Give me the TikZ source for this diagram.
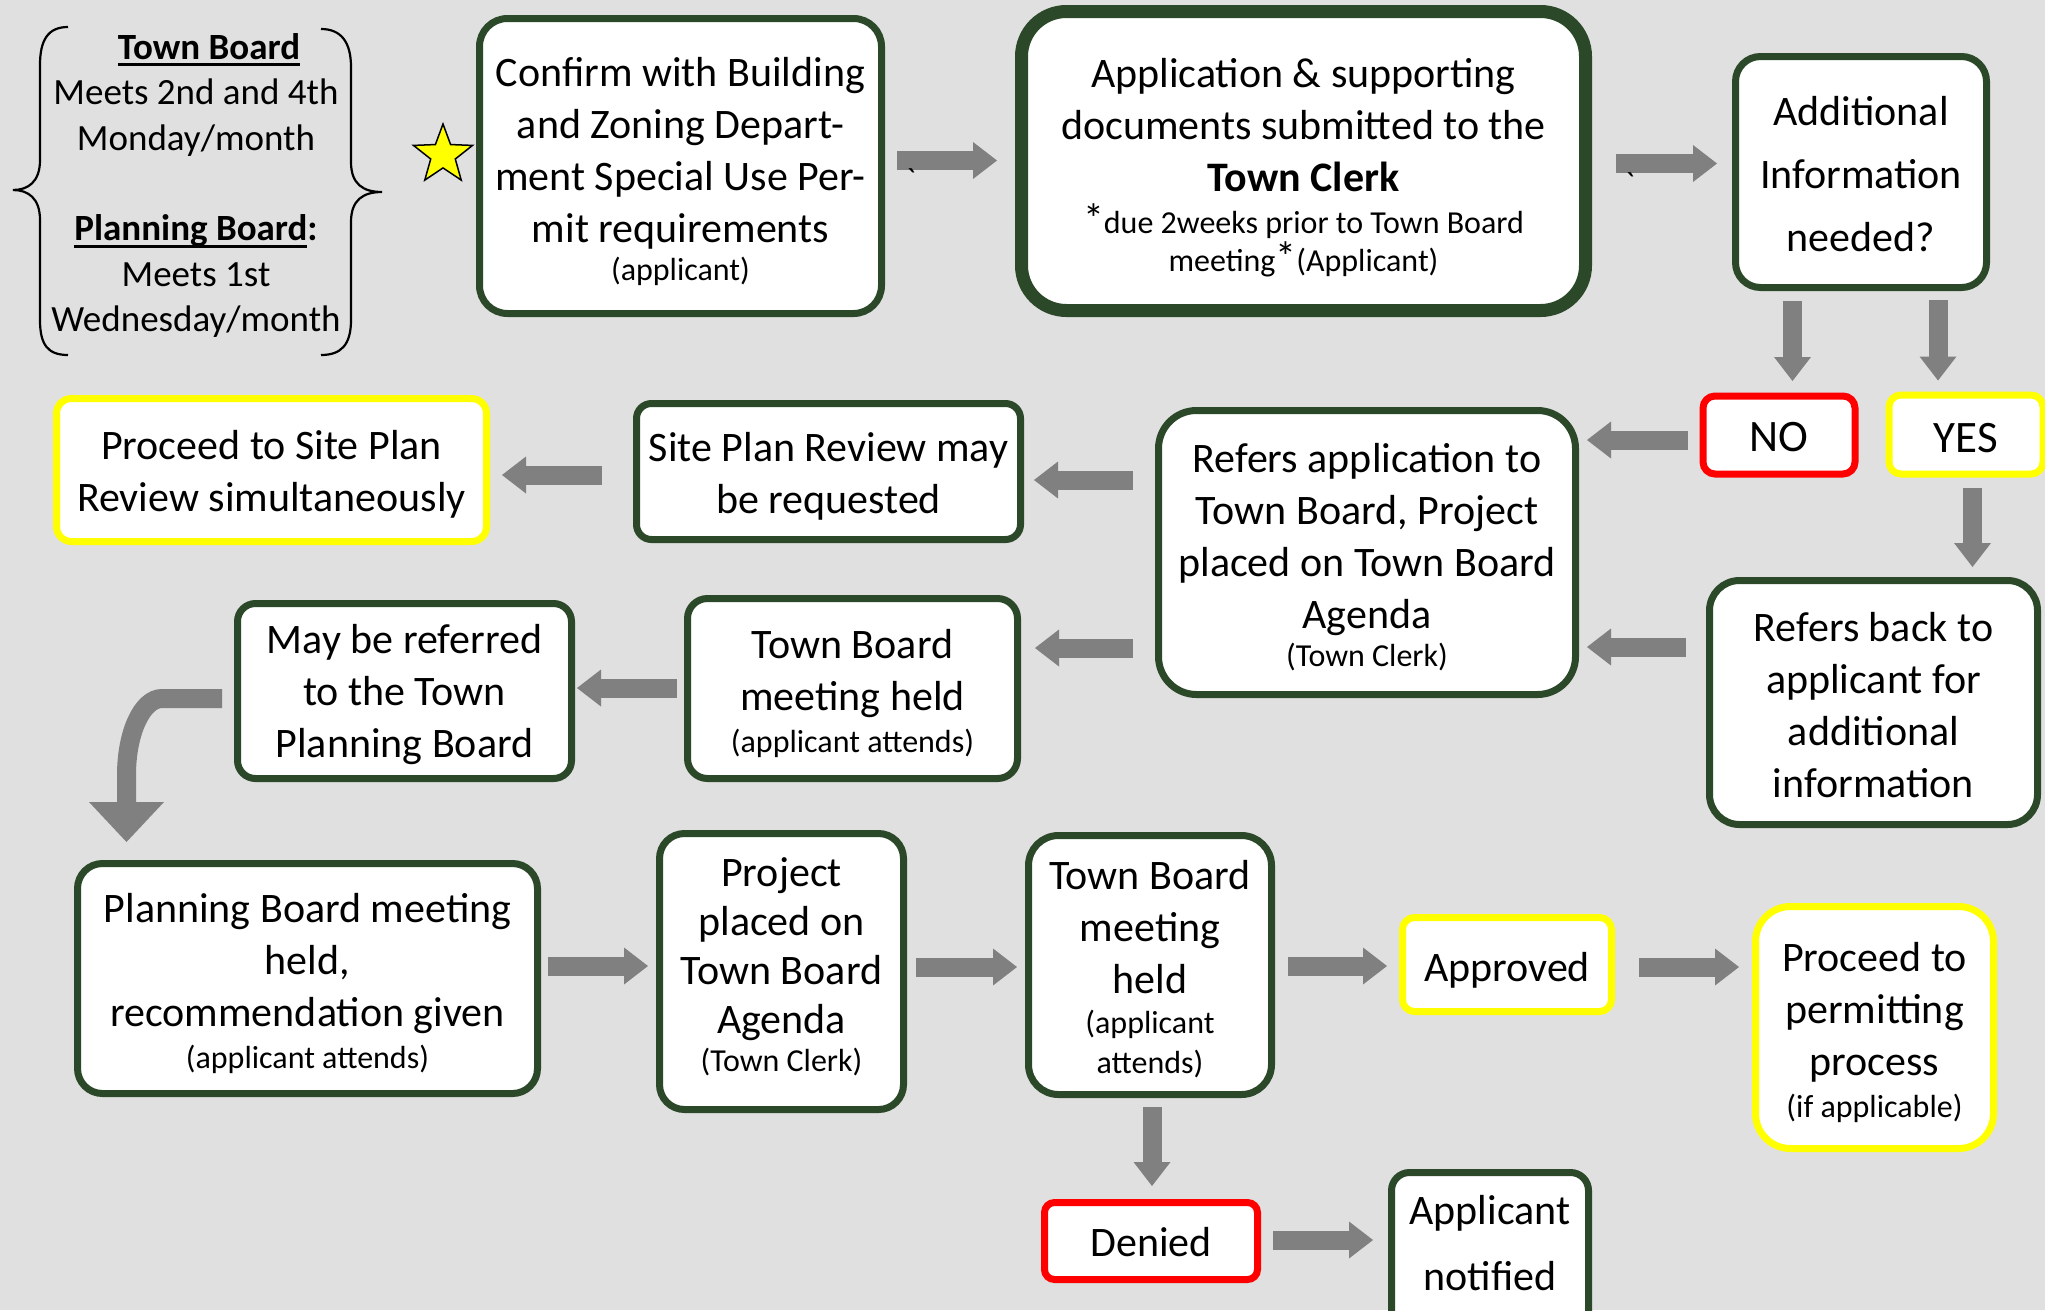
\documentclass[tikz,border=0pt]{standalone}
\usepackage{fontspec}
\setmainfont{Carlito}
\newfontfamily\tickfont{Carlito}
\usetikzlibrary{arrows.meta,calc,shapes.geometric}

\definecolor{bg}{RGB}{224,224,224}
\definecolor{dkgreen}{RGB}{43,72,41}
\definecolor{arrgray}{RGB}{128,128,128}
\definecolor{hiyellow}{RGB}{255,255,0}
\definecolor{hired}{RGB}{255,0,0}

\newcommand\bigf{\fontsize{42pt}{52pt}\selectfont}
\newcommand\smf{\fontsize{32pt}{40pt}\selectfont}
\newcommand\brf{\fontsize{37pt}{45.5pt}\selectfont}
\newcommand\ynf{\fontsize{45pt}{52pt}\selectfont}
\newsavebox\ulsave
\newcommand\ulbox[1]{\sbox\ulsave{#1}\rlap{\rule[-7pt]{\wd\ulsave}{3.2pt}}\usebox\ulsave}

\begin{document}
\begin{tikzpicture}[x=1pt,y=-1pt,
  box/.style={draw=dkgreen, line width=7pt, fill=white, inner sep=0pt, outer sep=0pt},
  hibox/.style={box, draw=hiyellow},
  nobox/.style={box, draw=hired},
  txt/.style={align=center, inner sep=0pt, font=\bigf},
  barr/.style={draw=arrgray, line width=19pt,
    -{Triangle[width=37pt,length=24pt,line width=0pt]}},
  brace/.style={draw=black, line width=2.2pt},
  tick/.style={font=\tickfont\fontsize{32pt}{32pt}\selectfont, inner sep=0pt, anchor=base}]

\useasboundingbox (0,0) rectangle (2045,1310);
\clip (0,0) rectangle (2045,1310);
\fill[bg] (0,0) rectangle (2045,1310);

% meeting schedule between braces
\draw[brace] (68,27) .. controls (48,27) and (40,40) .. (40,65) -- (40,160)
  .. controls (40,182) and (28,190) .. (13,190)
  .. controls (28,190) and (40,198) .. (40,220) -- (40,320)
  .. controls (40,345) and (48,355) .. (68,355);
\draw[brace] (321,29) .. controls (341,29) and (351,42) .. (351,67) -- (351,162)
  .. controls (351,184) and (363,192) .. (382,192)
  .. controls (363,192) and (351,200) .. (351,222) -- (351,320)
  .. controls (351,345) and (341,355) .. (321,355);
\node[font=\brf, align=center, inner sep=0pt] (meetings) at (196,185.6)
  {\hspace*{26pt}\ulbox{\textbf{Town Board}}\\Meets 2nd and 4th\\Monday/month\\[45pt]
   \ulbox{\textbf{Planning Board}}\textbf{:}\\Meets 1st\\Wednesday/month};

\node[star, star points=5, star point ratio=2.4, minimum size=62pt, inner sep=0pt,
  fill=hiyellow, draw=black, line width=1.5pt] (star) at (443,155) {};

% process boxes
\node[box, rounded corners=28pt, minimum width=402pt, minimum height=295pt] (confirm) at (680.5,166) {};
\node[box, line width=13pt, rounded corners=45pt, minimum width=564pt, minimum height=299pt] (app) at (1303.5,161) {};
\node[box, rounded corners=25pt, minimum width=251pt, minimum height=231pt] (addl) at (1861,172) {};
\node[nobox, rounded corners=12pt, minimum width=152pt, minimum height=78pt] (no) at (1779,435) {};
\node[hibox, rounded corners=12pt, minimum width=154pt, minimum height=79pt] (yes) at (1966,434.5) {};
\node[box, rounded corners=38pt, minimum width=417pt, minimum height=284pt] (refapp) at (1367,552.5) {};
\node[box, rounded corners=30pt, minimum width=328pt, minimum height=244pt] (refback) at (1873.5,702.5) {};
\node[box, rounded corners=15pt, minimum width=384pt, minimum height=136pt] (site) at (828.5,471.5) {};
\node[hibox, rounded corners=15pt, minimum width=430pt, minimum height=143pt] (prosite) at (271.5,470) {};
\node[box, rounded corners=18pt, minimum width=334pt, minimum height=175pt] (mayref) at (404.5,691) {};
\node[box, rounded corners=20pt, minimum width=330pt, minimum height=180pt] (tbfirst) at (852.5,688.5) {};
\node[box, rounded corners=25pt, minimum width=460pt, minimum height=230pt] (planmeet) at (307.5,978.5) {};
\node[box, rounded corners=25pt, minimum width=244pt, minimum height=276pt] (project) at (781.5,971.5) {};
\node[box, rounded corners=30pt, minimum width=243pt, minimum height=259pt] (tbsecond) at (1150,965) {};
\node[hibox, rounded corners=12pt, minimum width=209pt, minimum height=94pt] (approved) at (1507,964.5) {};
\node[hibox, rounded corners=35pt, minimum width=238pt, minimum height=242pt] (permit) at (1874.5,1027.5) {};
\node[nobox, rounded corners=10pt, minimum width=213pt, minimum height=77pt] (denied) at (1151,1241) {};
\node[box, rounded corners=18pt, minimum width=197pt, minimum height=164pt] (notified) at (1490,1254.5) {};

% box texts
\node[txt] (confirmtxt) at ($(confirm)+(0,5)$)
  {Confirm with Building\\and Zoning Depart-\\ment Special Use Per-\\mit requirements\\[-14pt]{\smf (applicant)}};
\node[txt] (apptxt) at ($(app)+(0,6.5)$)
  {Application \& supporting\\documents submitted to the\\\textbf{Town Clerk}\\[-10pt]{\smf{\bigf*}due 2weeks prior to Town Board}\\[-14pt]{\smf meeting{\bigf*}(Applicant)}};
\node[txt] (addltxt) at ($(addl)+(0,2)$) {Additional\\[11pt]Information\\[11pt]needed?};
\node[txt, font=\ynf] (notxt) at ($(no)+(0,2.5)$) {NO};
\node[txt, font=\ynf] (yestxt) at ($(yes)+(0,4)$) {YES};
\node[txt] (refapptxt) at ($(refapp)+(0,5)$)
  {Refers application to\\Town Board, Project\\placed on Town Board\\Agenda\\[-14pt]{\smf (Town Clerk)}};
\node[txt] (refbacktxt) at ($(refback)+(0,3)$) {Refers back to\\applicant for\\additional\\information};
\node[txt] (sitetxt) at ($(site)+(0,5)$) {Site Plan Review may\\be requested};
\node[txt] (prositetxt) at ($(prosite)+(0,4)$) {Proceed to Site Plan\\Review simultaneously};
\node[txt] (mayreftxt) at ($(mayref)+(0,4)$) {May be referred\\to the Town\\Planning Board};
\node[txt] (tbfirsttxt) at ($(tbfirst)+(0,5)$) {Town Board\\meeting held\\[-10pt]{\smf (applicant attends)}};
\node[txt] (planmeettxt) at ($(planmeet)+(0,5)$)
  {Planning Board meeting\\held,\\recommendation given\\[-10pt]{\smf (applicant attends)}};
\node[txt] (projecttxt) at ($(project)+(0,-5)$)
  {Project\\[-3pt]placed on\\[-3pt]Town Board\\[-3pt]Agenda\\[-14pt]{\smf (Town Clerk)}};
\node[txt] (tbsecondtxt) at ($(tbsecond)+(0,4.5)$)
  {Town Board\\meeting\\held\\[-12pt]{\smf (applicant}\\[-12pt]{\smf attends)}};
\node[txt] (approvedtxt) at ($(approved)+(0,6)$) {Approved};
\node[txt] (permittxt) at ($(permit)+(0,5)$) {Proceed to\\permitting\\process\\[-10pt]{\smf (if applicable)}};
\node[txt] (deniedtxt) at ($(denied)+(0,1)$) {Denied};
\node[txt] (notifiedtxt) at (1490,1243) {Applicant\\[14pt]notified};

% block arrows
\draw[barr] ($(confirm.east)+(15.5,-5.5)$) -- ($(app.west)+(-24.5,-0.5)$);
\draw[barr] ($(app.east)+(30.5,2.5)$) -- ($(addl.west)+(-18.5,-8.5)$);
\draw[barr] ($(addl.south)+(-68.5,13.5)$) -- ($(no.north)+(13.5,-15)$);
\draw[barr] ($(addl.south)+(77,12.5)$) -- ($(yes.north)+(-28,-14.5)$);
\draw[barr] ($(no.west)+(-15,5)$) -- ($(refapp.east)+(11.5,-112.5)$);
\draw[barr] ($(yes.south)+(6.5,13.5)$) -- ($(refback.north)+(99,-13.5)$);
\draw[barr] ($(refback.west)+(-23.5,-55.5)$) -- ($(refapp.east)+(11.5,94.5)$);
\draw[barr] ($(refapp.west)+(-25.5,-72.5)$) -- ($(site.east)+(13.5,8.5)$);
\draw[barr] ($(site.west)+(-34.5,3.5)$) -- ($(prosite.east)+(15.5,5)$);
\draw[barr] ($(refapp.west)+(-25.5,95.5)$) -- ($(tbfirst.east)+(17.5,-40.5)$);
\draw[barr] ($(tbfirst.west)+(-10.5,-0.5)$) -- ($(mayref.east)+(5.5,-3)$);
\draw[barr, -{Triangle[width=75pt,length=40pt,line width=0pt]}]
  ($(mayref.west)+(-15.5,7.5)$) -- ++(-60,0)
  .. controls +(-20,0) and +(0,-42) .. ++(-35.5,76.5)
  -- ($(planmeet.north)+(-181,-21.5)$);
\draw[barr] ($(planmeet.east)+(10.5,-12.5)$) -- ($(project.west)+(-11.5,-5.5)$);
\draw[barr] ($(project.east)+(12.5,-4.5)$) -- ($(tbsecond.west)+(-11.5,2)$);
\draw[barr] ($(tbsecond.east)+(16.5,1)$) -- ($(approved.west)+(-15.5,1.5)$);
\draw[barr] ($(approved.east)+(27.5,2.5)$) -- ($(permit.west)+(-16.5,-60.5)$);
\draw[barr] ($(tbsecond.south)+(2,12.5)$) -- ($(denied.north)+(1,-16.5)$);
\draw[barr] ($(denied.east)+(15.5,-1)$) -- ($(notified.west)+(-18.5,-14.5)$);

% stray grave marks on the first two arrows
\node[tick] (graveA) at (911,190) {`};
\node[tick] (graveB) at (1630,194) {`};
\end{tikzpicture}
\end{document}
